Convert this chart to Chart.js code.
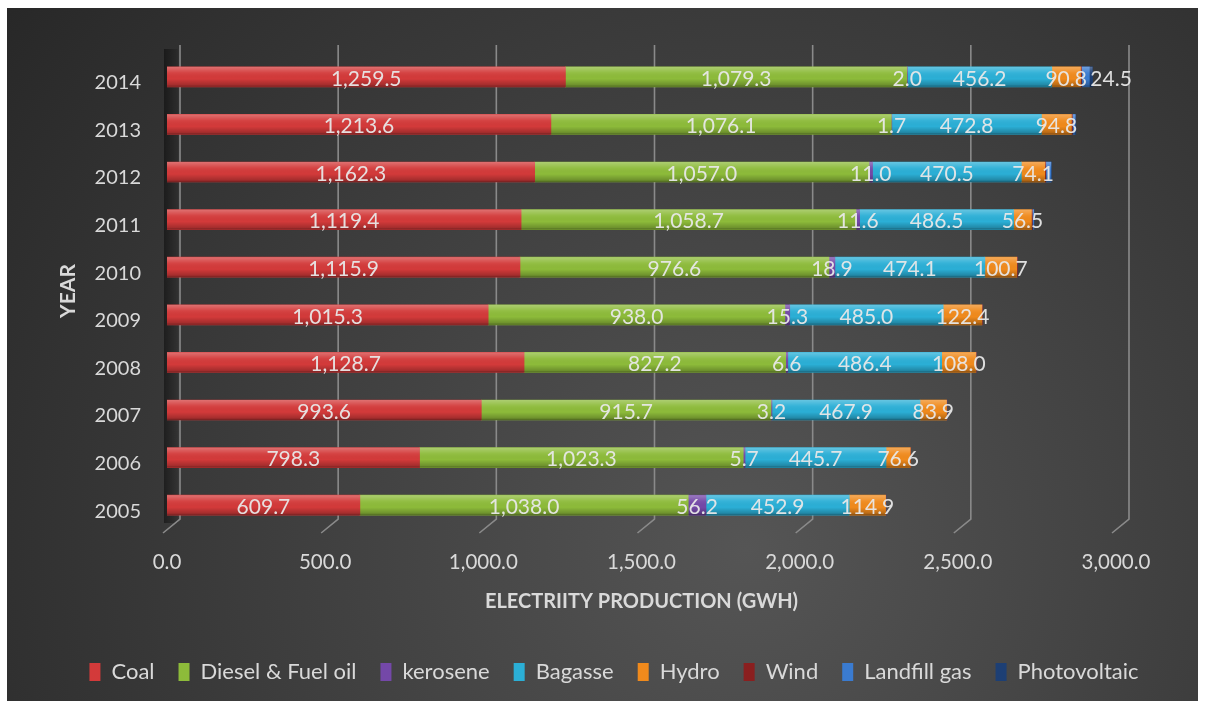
<!DOCTYPE html>
<html>
<head>
<meta charset="utf-8">
<script src="https://cdn.jsdelivr.net/npm/chart.js@4/dist/chart.umd.min.js"></script>
<style>
  html, body { margin: 0; padding: 0; background: #ffffff; }
  #wrap { position: absolute; left: 7px; top: 8px; width: 1191px; height: 693px; }
</style>
</head>
<body>
<div id="wrap"><canvas id="chart"></canvas></div>
<script>
// Electricity production by source (GWh), 2005-2014
const years = ['2005', '2006', '2007', '2008', '2009', '2010', '2011', '2012', '2013', '2014'];
const coal         = [609.7, 798.3, 993.6, 1128.7, 1015.3, 1115.9, 1119.4, 1162.3, 1213.6, 1259.5];
const dieselFuel   = [1038.0, 1023.3, 915.7, 827.2, 938.0, 976.6, 1058.7, 1057.0, 1076.1, 1079.3];
const kerosene     = [56.2, 5.7, 3.2, 6.6, 15.3, 18.9, 11.6, 11.0, 1.7, 2.0];
const bagasse      = [452.9, 445.7, 467.9, 486.4, 485.0, 474.1, 486.5, 470.5, 472.8, 456.2];
const hydro        = [114.9, 76.6, 83.9, 108.0, 122.4, 100.7, 56.5, 74.1, 94.8, 90.8];
const wind         = [1.0, 1.2, 1.4, 1.6, 1.8, 2.4, 2.9, 3.1, 3.3, 3.4];
const landfillGas  = [0, 0, 0, 0, 0, 0, 4.5, 16.2, 8.1, 24.5];
const photovoltaic = [0, 0, 0, 0, 0, 0, 0.3, 1.2, 2.6, 10.0];
const xTickValues  = [0, 500, 1000, 1500, 2000, 2500, 3000];

const FONT = 'Lato, "Open Sans", sans-serif';
const TEXT = '#d9d9d9';

const fmt = v => v.toLocaleString('en-US', { minimumFractionDigits: 1, maximumFractionDigits: 1 });

function series(label, data, color, labelMode) {
  return { label, data, backgroundColor: color, borderWidth: 0, labelMode };
}

const datasets = [
  series('Coal', coal, '#d33a3a', 'center'),
  series('Diesel & Fuel oil', dieselFuel, '#8dbb3a', 'center'),
  series('kerosene', kerosene, '#7448a8', 'center'),
  series('Bagasse', bagasse, '#2bafd6', 'center'),
  series('Hydro', hydro, '#f08a1c', 'center'),
  series('Wind', wind, '#8a1f1f', 'after'),
  series('Landfill gas', landfillGas, '#3a7bd0', 'after'),
  series('Photovoltaic', photovoltaic, '#1d3f74', 'after')
];

// Dark radial backdrop behind the whole chart
const backdrop = {
  id: 'backdrop',
  beforeDraw(chart) {
    const { ctx, width, height } = chart;
    const g = ctx.createRadialGradient(width * 0.62, height * 0.78, 0, width * 0.62, height * 0.78, width * 0.85);
    g.addColorStop(0, '#555555');
    g.addColorStop(1, '#232323');
    ctx.save();
    ctx.fillStyle = g;
    ctx.fillRect(0, 0, width, height);
    ctx.restore();
  }
};

// Back-wall grid with perspective floor ticks and the side wall shading
const wallGrid = {
  id: 'wallGrid',
  beforeDatasetsDraw(chart) {
    const { ctx, chartArea } = chart;
    const xs = chart.scales.x;
    const depthX = 13, top = chartArea.top - 8, floorBack = chartArea.bottom - 10, floorFront = chartArea.bottom + 4;
    ctx.save();
    const x0 = xs.getPixelForValue(0);
    const sg = ctx.createLinearGradient(x0 - 3, 0, x0 + depthX, 0);
    sg.addColorStop(0, 'rgba(0,0,0,0.45)');
    sg.addColorStop(1, 'rgba(0,0,0,0.05)');
    ctx.fillStyle = sg;
    ctx.fillRect(x0 - 3, top + 4, depthX + 1, floorBack - top);
    ctx.strokeStyle = '#8a8a8a';
    ctx.lineWidth = 1.6;
    xs.ticks.forEach(t => {
      const x = xs.getPixelForValue(t.value);
      ctx.beginPath();
      ctx.moveTo(x + depthX, top);
      ctx.lineTo(x + depthX, floorBack);
      ctx.lineTo(x - 4, floorFront);
      ctx.stroke();
    });
    ctx.restore();
  }
};

// Cylinder-like shading on each bar segment and value labels
const barFinish = {
  id: 'barFinish',
  afterDatasetsDraw(chart) {
    const { ctx } = chart;
    ctx.save();
    chart.data.datasets.forEach((ds, di) => {
      const meta = chart.getDatasetMeta(di);
      if (meta.hidden) return;
      meta.data.forEach(el => {
        const h = el.height, yTop = el.y - h / 2;
        const left = Math.min(el.x, el.base), w = Math.abs(el.x - el.base);
        if (w <= 0) return;
        const g = ctx.createLinearGradient(0, yTop, 0, yTop + h);
        g.addColorStop(0, 'rgba(255,255,255,0.28)');
        g.addColorStop(0.3, 'rgba(255,255,255,0.05)');
        g.addColorStop(0.6, 'rgba(0,0,0,0)');
        g.addColorStop(0.9, 'rgba(0,0,0,0.22)');
        g.addColorStop(1, 'rgba(0,0,0,0.45)');
        ctx.fillStyle = g;
        ctx.fillRect(left, yTop, w, h);
      });
    });
    ctx.font = '21px ' + FONT;
    ctx.fillStyle = 'rgba(232,232,232,0.95)';
    ctx.textBaseline = 'middle';
    chart.data.datasets.forEach((ds, di) => {
      const meta = chart.getDatasetMeta(di);
      meta.data.forEach((el, i) => {
        const v = ds.data[i];
        if (ds.labelMode === 'center') {
          ctx.textAlign = 'center';
          ctx.fillText(fmt(v), (el.x + el.base) / 2, el.y + 2);
        } else if (v >= 20) {
          ctx.textAlign = 'left';
          ctx.fillText(fmt(v), el.x + 1, el.y + 2);
        }
      });
    });
    ctx.restore();
  }
};

new Chart(document.getElementById('chart'), {
  type: 'bar',
  data: { labels: years, datasets },
  options: {
    indexAxis: 'y',
    responsive: true,
    maintainAspectRatio: false,
    animation: false,
    datasets: { bar: { barThickness: 20 } },
    layout: { padding: { top: 45, left: 35, right: 12, bottom: 8 } },
    scales: {
      x: {
        stacked: true,
        min: 0,
        max: 3000,
        afterBuildTicks: s => { s.ticks = xTickValues.map(v => ({ value: v })); },
        afterFit: s => { s.height = 108; },
        grid: { display: false, drawTicks: false },
        border: { display: false },
        ticks: { color: TEXT, font: { family: FONT, size: 20.5 }, padding: 21, callback: v => fmt(v) },
        title: {
          display: true, text: 'ELECTRIITY PRODUCTION (GWH)', color: TEXT,
          font: { family: FONT, size: 20, weight: 'bold' }, padding: { top: 0, bottom: 23 }
        }
      },
      y: {
        stacked: true,
        reverse: true,
        afterFit: s => { s.width = 125; },
        grid: { display: false, drawTicks: false },
        border: { display: false },
        ticks: { color: TEXT, font: { family: FONT, size: 20 }, padding: 26, labelOffset: 6 },
        title: {
          display: true, text: 'YEAR', color: TEXT,
          font: { family: FONT, size: 21, weight: 'bold' }, padding: { top: 14, bottom: 0 }
        }
      },
      spacer: {
        type: 'linear',
        position: 'right',
        display: true,
        afterFit: s => { s.width = 70; },
        grid: { display: false },
        border: { display: false },
        ticks: { display: false }
      }
    },
    plugins: {
      legend: {
        position: 'bottom',
        labels: {
          color: TEXT, font: { family: FONT, size: 22 },
          boxWidth: 11, boxHeight: 18, padding: 24
        }
      },
      tooltip: { enabled: false }
    }
  },
  plugins: [backdrop, wallGrid, barFinish]
});
</script>
</body>
</html>
